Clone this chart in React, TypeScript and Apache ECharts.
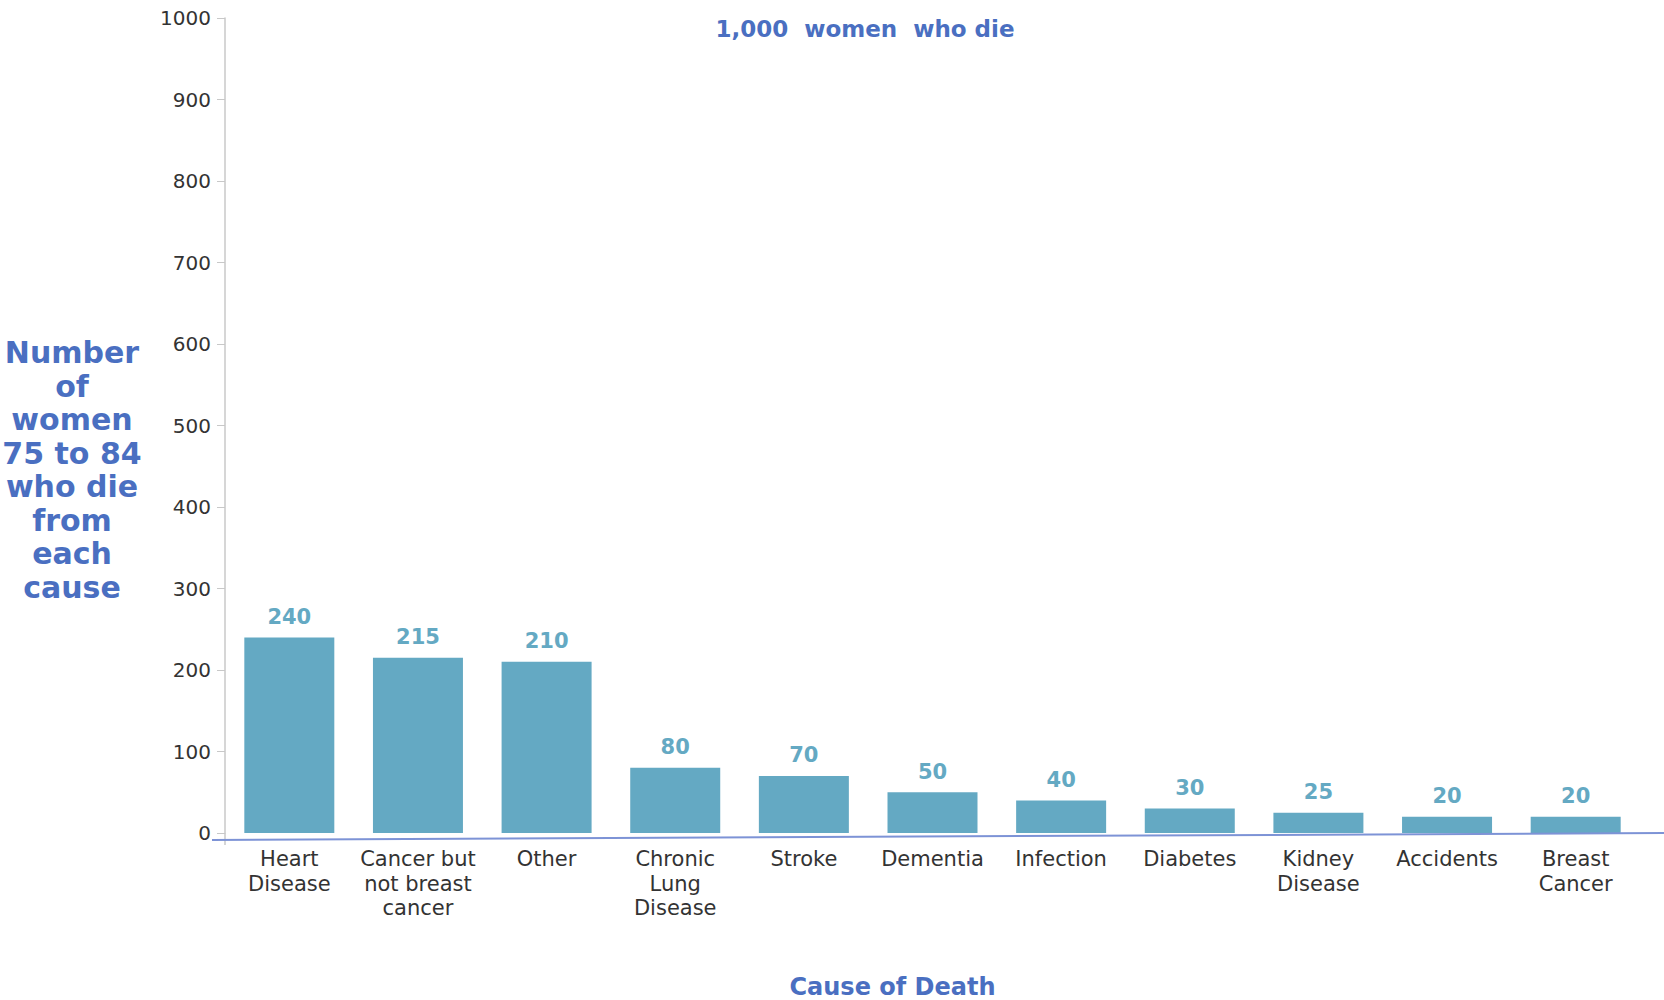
import React, { useEffect, useRef } from "react";
import * as echarts from "echarts";

const categories = [
  "Heart\nDisease",
  "Cancer but\nnot breast\ncancer",
  "Other",
  "Chronic\nLung\nDisease",
  "Stroke",
  "Dementia",
  "Infection",
  "Diabetes",
  "Kidney\nDisease",
  "Accidents",
  "Breast\nCancer",
];
const values = [240, 215, 210, 80, 70, 50, 40, 30, 25, 20, 20];
const yTicks = [0, 100, 200, 300, 400, 500, 600, 700, 800, 900, 1000];

const FONT = "'DejaVu Sans', 'Noto Sans', sans-serif";
const BLUE = "#4a6fc1";
const TEAL = "#64a9c3";

export default function App() {
  const ref = useRef<HTMLDivElement>(null);
  useEffect(() => {
    document.body.style.margin = "0";
    const chart = echarts.init(ref.current!, null, { renderer: "svg" });
    chart.setOption({
      animation: false,
      title: {
        text: "1,000  women  who die",
        left: 860,
        top: 12,
        textAlign: "center",
        textStyle: { color: BLUE, fontSize: 23, fontWeight: "bold", fontFamily: FONT },
      },
      grid: { left: 225, right: 24, top: 18, bottom: 167, containLabel: false, outerBoundsMode: "none" },
      xAxis: {
        type: "category",
        data: categories,
        name: "Cause of Death",
        nameLocation: "middle",
        nameGap: 142,
        nameTextStyle: {
          color: BLUE,
          fontSize: 24,
          fontWeight: "bold",
          fontFamily: FONT,
          padding: [0, 80, 0, 0],
          verticalAlign: "top",
        },
        axisLine: { show: false },
        axisTick: { show: false },
        axisLabel: {
          color: "#333",
          fontSize: 21,
          fontFamily: FONT,
          lineHeight: 24.5,
          margin: 14,
          interval: 0,
        },
      },
      yAxis: {
        type: "value",
        min: 0,
        max: 1000,
        interval: 100,
        axisLine: { show: true, lineStyle: { color: "#c8c8c8", width: 1.5 } },
        axisTick: { show: true, length: 8, lineStyle: { color: "#c8c8c8" } },
        splitLine: { show: false },
        axisLabel: {
          color: "#333",
          fontSize: 20,
          fontFamily: FONT,
          margin: 14,
          formatter: (v: number) => (yTicks.includes(v) ? String(v) : ""),
        },
      },
      graphic: [
        {
          type: "line",
          shape: { x1: 212, y1: 840, x2: 1664, y2: 833 },
          style: { stroke: "#7d93d6", lineWidth: 2 },
          z: 10,
        },
        {
          type: "line",
          shape: { x1: 225, y1: 833, x2: 225, y2: 845 },
          style: { stroke: "#c8c8c8", lineWidth: 1.5 },
        },
        {
          type: "text",
          x: 72,
          y: 336,
          style: {
            text: "Number\nof\nwomen\n75 to 84\nwho die\nfrom\neach\ncause",
            fill: BLUE,
            font: `bold 30px ${FONT}`,
            align: "center",
            verticalAlign: "top",
            lineHeight: 33.5,
          },
        },
      ],
      series: [
        {
          type: "bar",
          data: values,
          barWidth: 90,
          itemStyle: { color: TEAL },
          label: {
            show: true,
            position: "top",
            distance: 10,
            color: TEAL,
            fontSize: 21,
            fontWeight: "bold",
            fontFamily: FONT,
          },
        },
      ],
    });
    return () => chart.dispose();
  }, []);
  return <div ref={ref} style={{ width: 1664, height: 1000 }} />;
}
